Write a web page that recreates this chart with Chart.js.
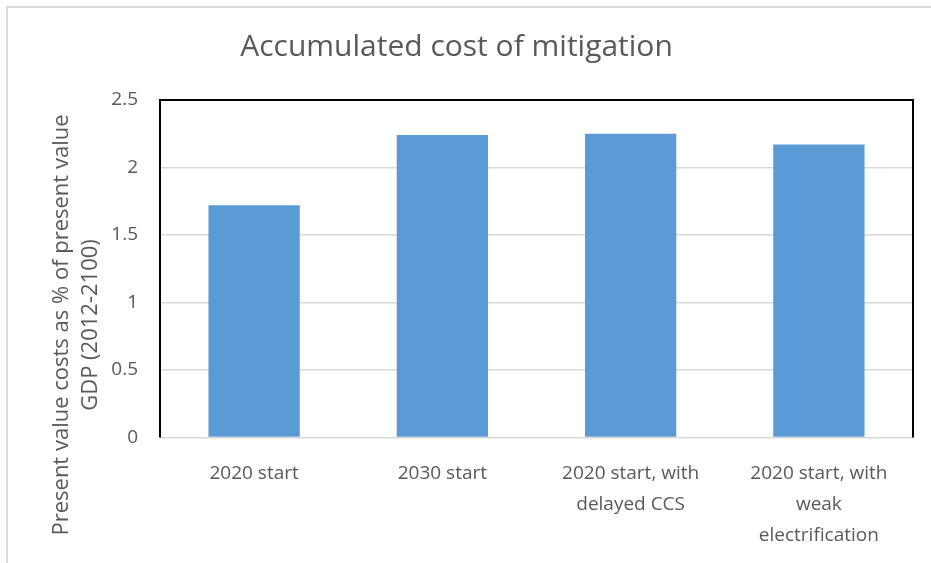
<!DOCTYPE html>
<html>
<head>
<meta charset="utf-8">
<script src="https://cdn.jsdelivr.net/npm/chart.js@4"></script>
<style>
html,body{margin:0;padding:0;background:#fff;}
#wrap{position:relative;width:931px;height:563px;}
#frame{position:absolute;left:6px;top:6px;right:-2px;bottom:-2px;border-left:2px solid #d9d9d9;border-top:2px solid #d9d9d9;}
canvas{position:absolute;left:0;top:0;}
</style>
</head>
<body>
<div id="wrap">
<div id="frame"></div>
<canvas id="c" width="931" height="563"></canvas>
</div>
<script>
var categories=[['2020 start'],['2030 start'],['2020 start, with','delayed CCS'],['2020 start, with','weak','electrification']];
var costs=[1.72,2.24,2.25,2.17];
var yTicks=[0,0.5,1,1.5,2,2.5];
var titleText='Accumulated cost of mitigation';
var yTitle=['Present value costs as % of present value','GDP (2012-2100)'];

var FONT="'Open Sans', sans-serif";
var GREY='#595959';

// border on left, top and right of the plot; axis title drawn where Excel puts it
var extras={
  id:'extras',
  afterDraw:function(chart){
    var a=chart.chartArea,ctx=chart.ctx;
    ctx.save();
    ctx.strokeStyle='#000';ctx.lineWidth=2;
    ctx.beginPath();
    ctx.moveTo(a.left,a.bottom);ctx.lineTo(a.left,a.top);ctx.lineTo(a.right,a.top);ctx.lineTo(a.right,a.bottom);
    ctx.stroke();
    ctx.fillStyle=GREY;
    ctx.font="22px "+FONT;
    ctx.textAlign='center';ctx.textBaseline='middle';
    ctx.translate(0,325);ctx.rotate(-Math.PI/2);
    ctx.fillText(yTitle[0],0,62);
    ctx.fillText(yTitle[1],0,91);
    ctx.restore();
  }
};

new Chart(document.getElementById('c'),{
  type:'bar',
  data:{labels:categories,datasets:[{data:costs,backgroundColor:'#5b9bd5',borderWidth:0,categoryPercentage:1,barPercentage:0.485}]},
  options:{
    responsive:false,animation:false,
    layout:{padding:{top:0,right:18,bottom:0,left:0}},
    plugins:{
      legend:{display:false},tooltip:{enabled:false},
      title:{display:true,text:titleText,color:GREY,font:{family:FONT,size:30,weight:'normal'},padding:{top:29,bottom:35}}
    },
    scales:{
      y:{min:0,max:2.5,
        afterBuildTicks:function(s){s.ticks=yTicks.map(function(v){return {value:v};});},
        afterFit:function(s){s.width=160;},
        border:{display:false},
        grid:{color:'#d9d9d9',lineWidth:1.5,drawTicks:false},
        ticks:{color:GREY,font:{family:FONT,size:19},padding:22,callback:function(v){return String(v);}}
      },
      x:{
        afterFit:function(s){s.height=125.5;},
        border:{display:false},
        grid:{display:false,drawTicks:false},
        ticks:{color:GREY,font:{family:FONT,size:19,lineHeight:1.63},padding:21,maxRotation:0,autoSkip:false}
      }
    }
  },
  plugins:[extras]
});
</script>
</body>
</html>
